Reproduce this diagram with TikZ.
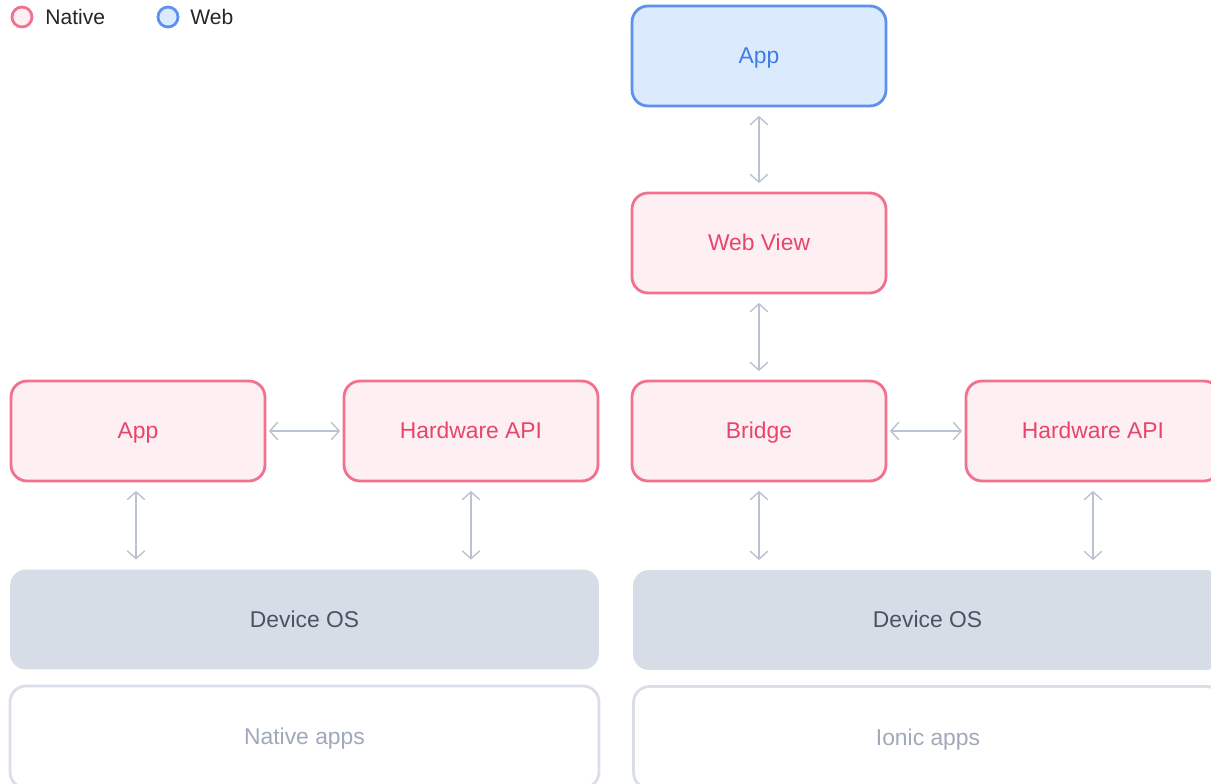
\documentclass[tikz,border=0pt]{standalone}
\usepackage{fontspec}
\setmainfont{Liberation Sans}
\usepackage{tikz}
\usetikzlibrary{arrows.meta,positioning}

\definecolor{nativeline}{HTML}{F1718F}
\definecolor{nativefill}{HTML}{FDEFF2}
\definecolor{nativetext}{HTML}{E8446C}
\definecolor{webline}{HTML}{5E91EE}
\definecolor{webfill}{HTML}{DCEAFD}
\definecolor{webtext}{HTML}{3D7DE4}
\definecolor{osfill}{HTML}{D6DDE7}
\definecolor{ostext}{HTML}{4B5264}
\definecolor{appsline}{HTML}{D9DFE8}
\definecolor{appstext}{HTML}{9FA9BA}
\definecolor{linkgray}{HTML}{B9C3D1}

\tikzset{
  box/.style={rounded corners=0.32cm, minimum width=5.08cm, minimum height=2cm,
    line width=1.6pt, font=\fontsize{13}{15}\selectfont,
    text height=1.71ex, text depth=0pt},
  native/.style={box, draw=nativeline, fill=nativefill, text=nativetext},
  web/.style={box, draw=webline, fill=webfill, text=webtext},
  osbox/.style={box, minimum width=11.78cm, fill=osfill, text=ostext},
  appsbox/.style={box, minimum width=11.78cm, minimum height=2.04cm, draw=appsline, fill=white, text=appstext},
  legendmark/.style={circle, inner sep=0, minimum size=0.4cm, line width=1.6pt},
  legendtext/.style={anchor=west, inner sep=0, font=\fontsize{12}{14}\selectfont, text=black!85},
  link/.style={draw=linkgray, line width=0.8pt,
    {Straight Barb[length=4.5pt,width=10pt]}-{Straight Barb[length=4.5pt,width=10pt]}},
  vlink/.style={link, shorten >=0.17cm, shorten <=0.17cm},
  hlink/.style={link, shorten >=0.05cm, shorten <=0.05cm}
}

\begin{document}
\begin{tikzpicture}[x=0.02cm, y=-0.02cm]
    \useasboundingbox (0,0) rectangle (1211,784);
    \clip (0,0) rectangle (1211,784);

    % Legend
    \node [legendmark, draw=nativeline, fill=nativefill] (keynative) at (22,17) {};
    \node [legendtext] (keynativetext) at (45,17) {Native};
    \node [legendmark, draw=webline, fill=webfill] (keyweb) at (168,17) {};
    \node [legendtext] (keywebtext) at (190,17) {Web};

    % Native stack
    \node [native] (napp) at (138,431) {App};
    \node [native] (nhw) at (471,431) {Hardware API};
    \node [osbox] (nos) at (304.5,619.5) {Device OS};
    \node [appsbox] (napps) at (304.5,737) {Native apps};

    % Ionic stack
    \node [web] (iapp) at (759,56) {App};
    \node [native] (iview) at (759,243) {Web View};
    \node [native] (ibridge) at (759,431) {Bridge};
    \node [native] (ihw) at (1093,431) {Hardware API};
    \node [osbox] (ios) at (927.5,620) {Device OS};
    \node [appsbox] (iapps) at (928,737.5) {Ionic apps};

    % Links
    \draw [hlink] (napp) -- (nhw);
    \draw [vlink] ([xshift=-0.04cm]napp.south) -- ([xshift=-0.04cm]napp.south |- nos.north);
    \draw [vlink] (nhw.south) -- (nhw.south |- nos.north);
    \draw [vlink] (iapp) -- (iview);
    \draw [vlink] (iview) -- (ibridge);
    \draw [hlink] (ibridge) -- (ihw);
    \draw [vlink] (ibridge.south) -- (ibridge.south |- ios.north);
    \draw [vlink] (ihw.south) -- (ihw.south |- ios.north);
\end{tikzpicture}
\end{document}
